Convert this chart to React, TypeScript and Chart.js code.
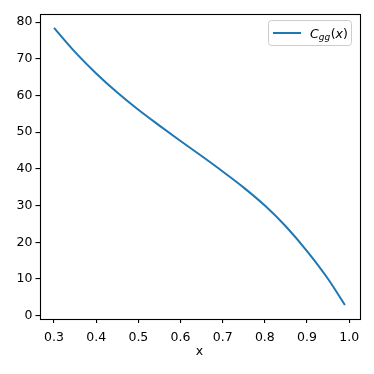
import React, { useEffect, useRef } from "react";
import { Chart, registerables } from "chart.js";

Chart.register(...registerables);

const xValues = [0.3, 0.35, 0.4, 0.45, 0.5, 0.55, 0.6, 0.65, 0.7, 0.75, 0.8, 0.85, 0.9, 0.95, 0.99];
const cggValues = [78.4, 71.8, 66.0, 60.8, 56.1, 51.8, 47.6, 43.5, 39.3, 34.9, 30.0, 24.3, 17.6, 10.0, 2.9];
const xTicks = [0.3, 0.4, 0.5, 0.6, 0.7, 0.8, 0.9, 1.0];
const yTicks = [0, 10, 20, 30, 40, 50, 60, 70, 80];

const FONT = "'DejaVu Sans', sans-serif";
const FONT_SIZE = 12.5;
const LINE_COLOR = "#1f77b4";

const decorPlugin = {
  id: "decor",
  afterDraw(chart: any) {
    const ctx = chart.ctx as CanvasRenderingContext2D;
    const a = chart.chartArea;
    ctx.save();
    // spines
    ctx.strokeStyle = "#000";
    ctx.lineWidth = 1.1;
    ctx.strokeRect(Math.round(a.left) + 0.5, Math.round(a.top) + 0.5, Math.round(a.right - a.left), Math.round(a.bottom - a.top));
    // x label
    ctx.fillStyle = "#000";
    ctx.font = `${FONT_SIZE}px ${FONT}`;
    ctx.textAlign = "center";
    ctx.textBaseline = "middle";
    ctx.fillText("x", (a.left + a.right) / 2, 352);
    // legend box
    const bx = 268.5, by = 20.5, bw = 83, bh = 25, r = 3;
    ctx.beginPath();
    ctx.moveTo(bx + r, by);
    ctx.lineTo(bx + bw - r, by);
    ctx.arcTo(bx + bw, by, bx + bw, by + r, r);
    ctx.lineTo(bx + bw, by + bh - r);
    ctx.arcTo(bx + bw, by + bh, bx + bw - r, by + bh, r);
    ctx.lineTo(bx + r, by + bh);
    ctx.arcTo(bx, by + bh, bx, by + bh - r, r);
    ctx.lineTo(bx, by + r);
    ctx.arcTo(bx, by, bx + r, by, r);
    ctx.closePath();
    ctx.fillStyle = "rgba(255,255,255,0.8)";
    ctx.fill();
    ctx.strokeStyle = "#cccccc";
    ctx.lineWidth = 1;
    ctx.stroke();
    // legend line
    ctx.beginPath();
    ctx.moveTo(273, 33);
    ctx.lineTo(301, 33);
    ctx.strokeStyle = LINE_COLOR;
    ctx.lineWidth = 2;
    ctx.stroke();
    // legend text: C_{gg}(x)
    ctx.fillStyle = "#000";
    ctx.textAlign = "left";
    ctx.textBaseline = "alphabetic";
    let tx = 310;
    const base = 37.5;
    ctx.font = `italic ${FONT_SIZE}px ${FONT}`;
    ctx.fillText("C", tx, base);
    tx += ctx.measureText("C").width;
    ctx.font = `italic 9px ${FONT}`;
    ctx.fillText("gg", tx, base + 2);
    tx += ctx.measureText("gg").width + 0.5;
    ctx.font = `${FONT_SIZE}px ${FONT}`;
    ctx.fillText("(", tx, base);
    tx += ctx.measureText("(").width;
    ctx.font = `italic ${FONT_SIZE}px ${FONT}`;
    ctx.fillText("x", tx, base);
    tx += ctx.measureText("x").width;
    ctx.font = `${FONT_SIZE}px ${FONT}`;
    ctx.fillText(")", tx, base);
    ctx.restore();
  },
};

export default function App() {
  const ref = useRef<HTMLCanvasElement | null>(null);
  useEffect(() => {
    document.body.style.margin = "0";
    const canvas = ref.current!;
    const chart = new Chart(canvas, {
      type: "line",
      data: {
        datasets: [
          {
            label: "C_gg(x)",
            data: xValues.map((x, i) => ({ x, y: cggValues[i] })),
            borderColor: LINE_COLOR,
            borderWidth: 2,
            pointRadius: 0,
            fill: false,
            cubicInterpolationMode: "monotone",
          },
        ],
      },
      options: {
        animation: false,
        responsive: false,
        maintainAspectRatio: false,
        layout: { padding: { left: 0, right: 14.5, top: 14, bottom: 0 } },
        plugins: { legend: { display: false }, tooltip: { enabled: false } },
        scales: {
          x: {
            type: "linear",
            min: 0.2655,
            max: 1.0245,
            afterBuildTicks: (s: any) => {
              s.ticks = xTicks.map((v) => ({ value: v }));
            },
            afterFit: (s: any) => {
              s.height = 55;
            },
            ticks: {
              color: "#000",
              font: { family: FONT, size: FONT_SIZE },
              padding: 7,
              maxRotation: 0,
              autoSkip: false,
              callback: (v: any) => Number(v).toFixed(1),
            },
            grid: { display: true, drawOnChartArea: false, drawTicks: true, tickLength: 4, color: "#000", lineWidth: 1.1 },
            border: { display: false },
          },
          y: {
            type: "linear",
            min: -0.9,
            max: 82.2,
            afterBuildTicks: (s: any) => {
              s.ticks = yTicks.map((v) => ({ value: v }));
            },
            afterFit: (s: any) => {
              s.width = 39.5;
            },
            ticks: {
              color: "#000",
              font: { family: FONT, size: FONT_SIZE },
              padding: 3,
              autoSkip: false,
              callback: (v: any) => String(v),
            },
            grid: { display: true, drawOnChartArea: false, drawTicks: true, tickLength: 4, color: "#000", lineWidth: 1.1 },
            border: { display: false },
          },
        },
      },
      plugins: [decorPlugin],
    });
    return () => chart.destroy();
  }, []);
  return (
    <div style={{ width: 374, height: 374, position: "relative" }}>
      <canvas ref={ref} width={374} height={374} style={{ width: 374, height: 374, display: "block" }} />
    </div>
  );
}
